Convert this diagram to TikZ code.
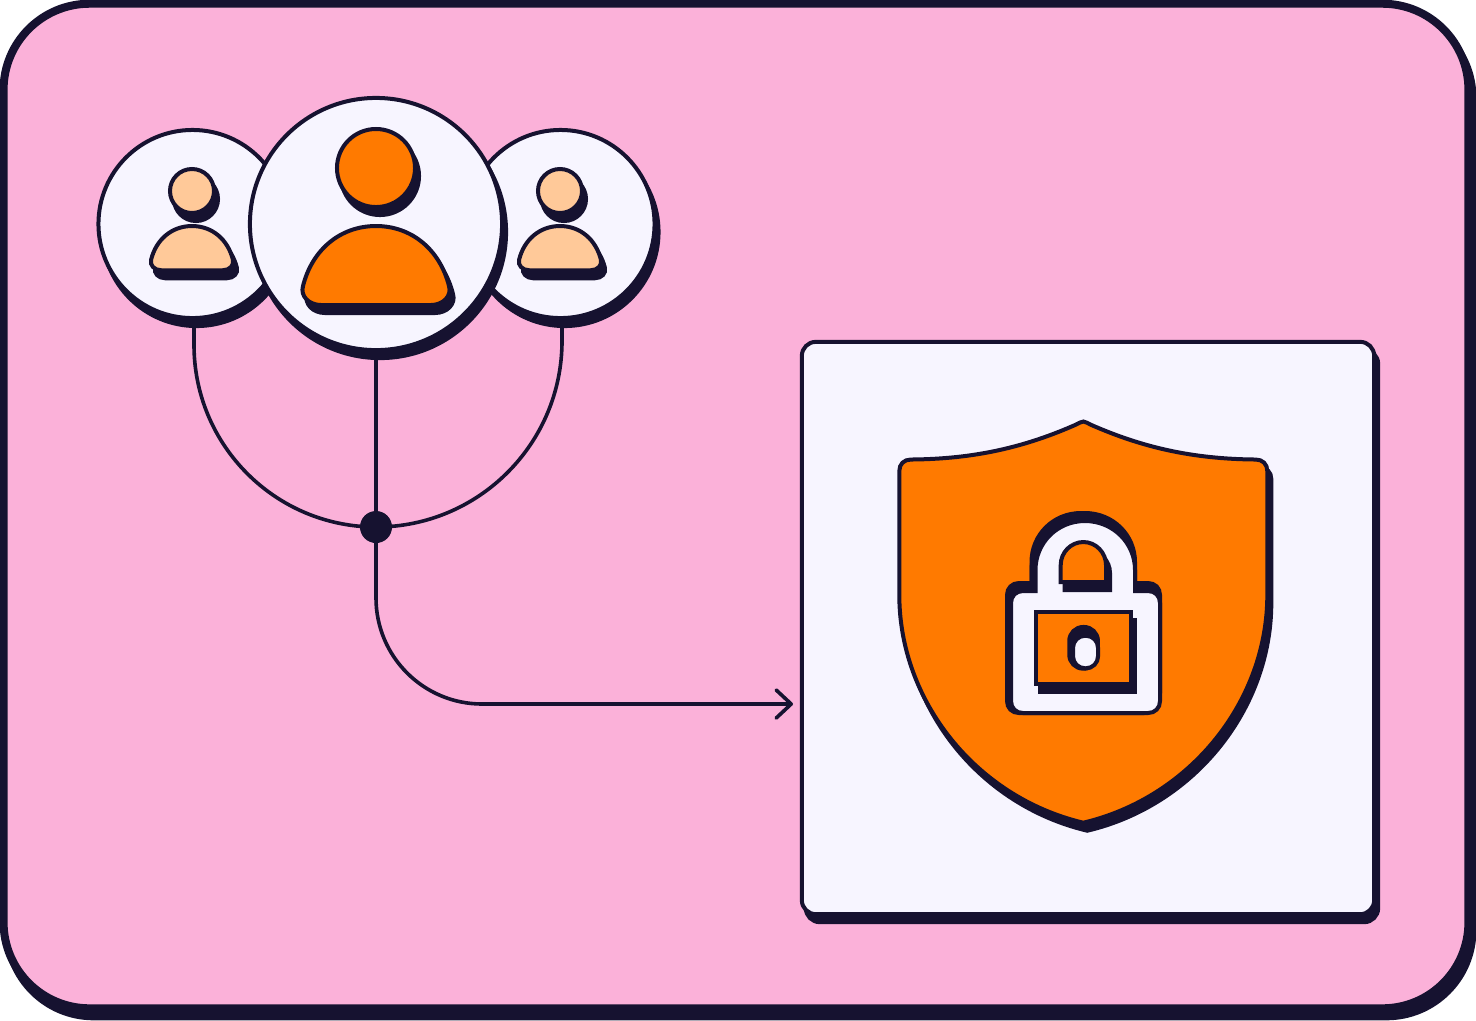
\documentclass[tikz,border=0pt]{standalone}
\usepackage{xcolor}
\usetikzlibrary{positioning, arrows.meta, shapes, calc}

\definecolor{inkdark}{HTML}{161230}
\definecolor{bgpink}{HTML}{FBB1D9}
\definecolor{vivid}{HTML}{FF7A00}
\definecolor{peach}{HTML}{FFC999}
\definecolor{paper}{HTML}{F7F5FF}

\tikzset{
  outlined/.style={draw=inkdark, line width=.04cm},
  cast/.style={draw=inkdark, fill=inkdark, line width=.04cm},
  roundnode/.style={circle, inner sep=0pt, minimum size=#1},
  wire/.style={draw=inkdark, line width=.036cm},
  backbox/.style={rounded corners=.86cm, line width=.08cm, minimum width=14.64cm, minimum height=10.04cm},
  panelbox/.style={rounded corners=.14cm, minimum width=5.72cm, minimum height=5.72cm},
  windowbox/.style={rectangle, inner sep=0pt, minimum width=.95cm, minimum height=.72cm},
  keybox/.style={rectangle, rounded corners=.12cm, inner sep=0pt, minimum width=.25cm, minimum height=.325cm},
  keyshadebox/.style={rectangle, rounded corners=.14cm, inner sep=0pt, minimum width=.287cm, minimum height=.417cm},
  % shapes that are drawn twice, once as face and once as cast shadow
  bodyshape/.pic={
    \path[pic actions] (-55,79) -- (55,79) .. controls (67,79) and (76,70) .. (73,60)
      .. controls (64,24) and (36,0) .. (0,0) .. controls (-36,0) and (-64,24) .. (-73,60)
      .. controls (-76,70) and (-67,79) .. (-55,79) -- cycle;
  },
  shieldshape/.pic={
    \path[pic actions] (1083.3,421.5) .. controls (1081,421.5) and (1078.5,423.5) .. (1075.5,424.8)
      .. controls (1025,447) and (975,459) .. (911,459.5)
      .. controls (904,459.5) and (899.3,464) .. (899.3,471) -- (899.3,595)
      .. controls (899.3,700) and (975,797) .. (1083.3,822.7)
      .. controls (1191.6,797) and (1267.3,700) .. (1267.3,595) -- (1267.3,471)
      .. controls (1267.3,464) and (1262.6,459.5) .. (1255.6,459.5)
      .. controls (1191.6,459) and (1141.6,447) .. (1091,424.8)
      .. controls (1088,423.5) and (1085.6,421.5) .. (1083.3,421.5) -- cycle;
  },
  lockshape/.pic={
    \path[pic actions] (1035.5,591) -- (1035.5,570) .. controls (1035.5,543) and (1057,521) .. (1085,521)
      .. controls (1113,521) and (1135,543) .. (1135,570) -- (1135,591) -- (1148,591)
      .. controls (1155,591) and (1160,596) .. (1160,603) -- (1160,701)
      .. controls (1160,708) and (1155,713) .. (1148,713) -- (1023,713)
      .. controls (1016,713) and (1011,708) .. (1011,701) -- (1011,603)
      .. controls (1011,596) and (1016,591) .. (1023,591) -- cycle;
  },
  shackleshape/.pic={
    \path[pic actions] (1060.7,582) -- (1060.7,565) .. controls (1060.7,552.5) and (1070.8,542) .. (1083.3,542)
      .. controls (1095.8,542) and (1106,552.5) .. (1106,565) -- (1106,582) -- cycle;
  },
}

\begin{document}
\begin{tikzpicture}[x=.01cm, y=-.01cm]
\useasboundingbox (0,0) rectangle (1476,1020);

% Background
\node[cast, backbox] (backshade) at (740,514) {};
\node[outlined, fill=bgpink, backbox] (back) at (736,506) {};

% Users
\node[cast, roundnode=1.88cm] (shadeA) at (196.5,232) {};
\node[outlined, fill=paper, roundnode=1.88cm] (userA) at (192.5,224) {};
\node[cast, roundnode=1.88cm] (shadeC) at (564.5,232) {};
\node[outlined, fill=paper, roundnode=1.88cm] (userC) at (560.5,224) {};
\node[cast, roundnode=2.52cm] (shadeB) at (380,232) {};
\node[outlined, fill=paper, roundnode=2.52cm] (userB) at (376,224) {};

\node[cast, roundnode=.44cm] (headshadeA) at (196,199) {};
\node[outlined, fill=peach, roundnode=.44cm] (headA) at (192,191) {};
\pic[cast, scale=.56] at (196,234) {bodyshape};
\pic[outlined, fill=peach, scale=.56] at (192,226) {bodyshape};

\node[cast, roundnode=.44cm] (headshadeC) at (564,199) {};
\node[outlined, fill=peach, roundnode=.44cm] (headC) at (560,191) {};
\pic[cast, scale=.56] at (564,234) {bodyshape};
\pic[outlined, fill=peach, scale=.56] at (560,226) {bodyshape};

\node[cast, roundnode=.78cm] (headshadeB) at (380,176) {};
\node[outlined, fill=vivid, roundnode=.78cm] (headB) at (376,168) {};
\pic[cast] at (380,234) {bodyshape};
\pic[outlined, fill=vivid] at (376,226) {bodyshape};

% Connectors
\coordinate (arrowend) at (793,704);
\node[fill=inkdark, roundnode=.32cm] (hub) at (376,527) {};
\draw[wire, rounded corners=1.82cm] ($(userA.south)+(1.5,0)$) |- (hub.center);
\draw[wire, rounded corners=1.86cm] ($(userC.south)+(1.5,0)$) |- (hub.center);
\draw[wire] (userB.south) -- (hub.center);
\draw[wire, rounded corners=1.06cm, -{Straight Barb[length=.15cm, width=.28cm, round]}] (hub.center) |- (arrowend);

% Panel
\node[cast, panelbox] (panelshade) at (1092,636) {};
\node[outlined, fill=paper, panelbox] (panel) at (1088,628) {};

% Shield
\pic[cast] at (4,8) {shieldshape};
\pic[outlined, fill=vivid] at (0,0) {shieldshape};

% Lock
\pic[cast] at (-4,-8) {lockshape};
\pic[cast] at (0,-8) {lockshape};
\pic[cast] at (-4,0) {lockshape};
\pic[outlined, fill=paper] at (0,0) {lockshape};
\pic[cast] at (4,8) {shackleshape};
\pic[outlined, fill=vivid] at (0,0) {shackleshape};
\node[cast, windowbox] (windowshade) at (1087.5,656) {};
\node[outlined, fill=vivid, windowbox] (window) at (1083.5,648) {};
\node[cast, keyshadebox] (keyshade) at (1083.6,647.8) {};
\node[outlined, fill=paper, keybox] (keyhole) at (1085.5,652) {};
\end{tikzpicture}
\end{document}
